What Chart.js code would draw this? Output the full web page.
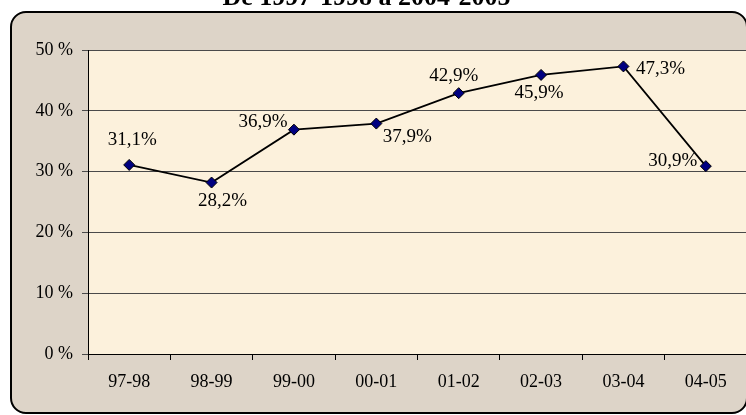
<!DOCTYPE html>
<html>
<head>
<meta charset="utf-8">
<script src="https://cdn.jsdelivr.net/npm/chart.js@4/dist/chart.umd.min.js"></script>
<style>
  html, body { margin: 0; padding: 0; background: #fff; overflow: hidden; }
  #page { position: relative; width: 746px; height: 415px; overflow: hidden; }
  #wrap { position: absolute; left: 0; top: 0; width: 760px; height: 415px; }
  #title {
    position: absolute; left: 0; top: -16px; width: 733px; text-align: center;
    font: bold 26px/26px 'Liberation Serif', 'Times New Roman', serif; color: #000;
    z-index: 2;
  }
</style>
</head>
<body>
<div id="page">
  <div id="wrap"><canvas id="chart"></canvas></div>
  <div id="title">De 1997-1998 à 2004-2005</div>
</div>
<script>
// données
const categories = ['97-98', '98-99', '99-00', '00-01', '01-02', '02-03', '03-04', '04-05'];
const rates = [31.1, 28.2, 36.9, 37.9, 42.9, 45.9, 47.3, 30.9];
const yTicks = [0, 10, 20, 30, 40, 50];

// décalage des étiquettes par rapport au point (dx, dy)
const labelOffsets = [[3, -25], [11, 18], [-31, -8], [31, 13], [-5, -17], [-2, 18], [37, 3], [-33, -5]];

const serif = "'Liberation Serif', 'Times New Roman', serif";

// fond du cadre et de la zone de tracé
const bgPlugin = {
  id: 'bg',
  beforeDraw(chart) {
    const ctx = chart.ctx;
    const a = chart.chartArea;
    ctx.save();
    ctx.beginPath();
    ctx.roundRect(11, 12, 736, 401, 15);
    ctx.fillStyle = '#ddd4c8';
    ctx.fill();
    ctx.lineWidth = 2;
    ctx.strokeStyle = '#000';
    ctx.stroke();
    ctx.fillStyle = '#fcf1dc';
    ctx.fillRect(a.left, a.top, a.right - a.left, a.bottom - a.top);
    ctx.restore();
  }
};

// étiquettes de valeurs
const labelPlugin = {
  id: 'valueLabels',
  afterDatasetsDraw(chart) {
    const ctx = chart.ctx;
    const meta = chart.getDatasetMeta(0);
    ctx.save();
    ctx.font = '19px ' + serif;
    ctx.fillStyle = '#000';
    ctx.textAlign = 'center';
    ctx.textBaseline = 'middle';
    meta.data.forEach((pt, i) => {
      const txt = rates[i].toFixed(1).replace('.', ',') + '%';
      const off = labelOffsets[i];
      ctx.fillText(txt, pt.x + off[0], pt.y + off[1]);
    });
    ctx.restore();
  }
};

new Chart(document.getElementById('chart'), {
  type: 'line',
  data: {
    labels: categories,
    datasets: [{
      data: rates,
      borderColor: '#000',
      borderWidth: 1.8,
      tension: 0,
      pointStyle: 'rectRot',
      pointRadius: 5.5,
      pointBackgroundColor: '#000080',
      pointBorderColor: '#000',
      pointBorderWidth: 1
    }]
  },
  options: {
    responsive: true,
    maintainAspectRatio: false,
    animation: false,
    events: [],
    layout: { padding: { top: 50, right: 13, left: 0, bottom: 0 } },
    plugins: { legend: { display: false }, title: { display: false }, tooltip: { enabled: false } },
    scales: {
      x: {
        offset: true,
        grid: { offset: true, drawOnChartArea: false, drawTicks: true, tickLength: 6, color: '#000' },
        border: { color: '#000', width: 1 },
        ticks: { color: '#000', padding: 11, font: { family: serif, size: 18 }, maxRotation: 0 },
        afterFit: s => { s.height = 61; }
      },
      y: {
        min: yTicks[0],
        max: yTicks[yTicks.length - 1],
        afterBuildTicks: s => { s.ticks = yTicks.map(v => ({ value: v })); },
        grid: { color: '#4a4a4a', tickColor: '#4a4a4a', tickLength: 6, lineWidth: 1 },
        border: { color: '#000', width: 1 },
        ticks: { color: '#000', padding: 9, font: { family: serif, size: 18 }, callback: v => v + ' %' },
        afterFit: s => { s.width = 88; }
      }
    }
  },
  plugins: [bgPlugin, labelPlugin]
});
</script>
</body>
</html>
